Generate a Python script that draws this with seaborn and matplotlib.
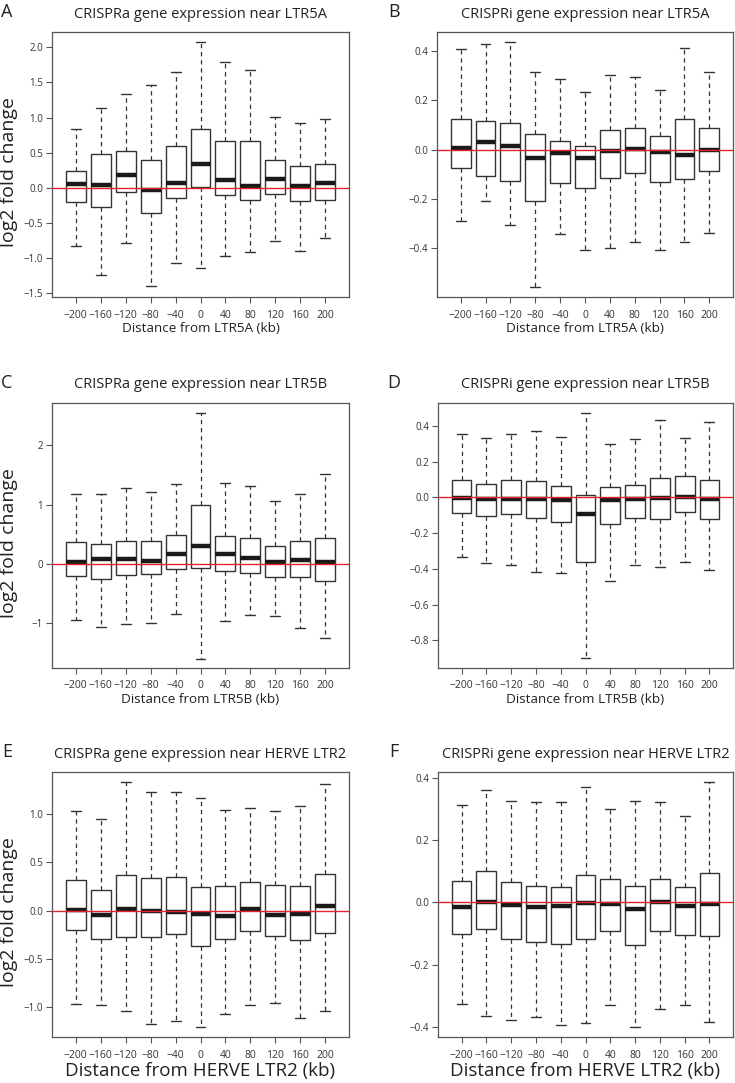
import numpy as np
import pandas as pd
import matplotlib
matplotlib.use('Agg')
import matplotlib.pyplot as plt
import seaborn as sns

# distance bins (kb)
distances = ['−200', '−160', '−120', '−80', '−40', '0', '40', '80', '120', '160', '200']

# five-number summaries: whisker low, Q1, median, Q3, whisker high
# A: CRISPRa near LTR5A
a_lo  = [-0.83, -1.24, -0.79, -1.41, -1.08, -1.14, -0.98, -0.92, -0.76, -0.91, -0.72]
a_q1  = [-0.20, -0.27, -0.06, -0.36, -0.15, 0.01, -0.10, -0.18, -0.09, -0.19, -0.18]
a_med = [0.05, 0.04, 0.18, -0.03, 0.07, 0.34, 0.11, 0.02, 0.12, 0.02, 0.06]
a_q3  = [0.24, 0.48, 0.52, 0.40, 0.59, 0.84, 0.67, 0.67, 0.39, 0.31, 0.33]
a_hi  = [0.84, 1.14, 1.33, 1.47, 1.65, 2.08, 1.79, 1.68, 1.01, 0.92, 0.98]

# B: CRISPRi near LTR5A
b_lo  = [-0.29, -0.21, -0.307, -0.558, -0.345, -0.41, -0.40, -0.377, -0.407, -0.376, -0.34]
b_q1  = [-0.077, -0.107, -0.13, -0.208, -0.138, -0.158, -0.115, -0.097, -0.134, -0.122, -0.089]
b_med = [0.007, 0.03, 0.014, -0.035, -0.016, -0.034, -0.008, 0.003, -0.012, -0.023, -0.001]
b_q3  = [0.126, 0.116, 0.107, 0.065, 0.035, 0.013, 0.078, 0.089, 0.053, 0.123, 0.088]
b_hi  = [0.41, 0.43, 0.437, 0.315, 0.286, 0.235, 0.303, 0.296, 0.242, 0.412, 0.316]

# C: CRISPRa near LTR5B
c_lo  = [-0.95, -1.07, -1.02, -1.00, -0.85, -1.61, -0.97, -0.88, -0.89, -1.10, -1.27]
c_q1  = [-0.21, -0.26, -0.20, -0.17, -0.09, -0.08, -0.13, -0.16, -0.22, -0.23, -0.29]
c_med = [0.02, 0.07, 0.08, 0.05, 0.17, 0.29, 0.17, 0.10, 0.02, 0.06, 0.03]
c_q3  = [0.37, 0.33, 0.39, 0.38, 0.49, 0.99, 0.47, 0.43, 0.29, 0.39, 0.43]
c_hi  = [1.17, 1.18, 1.28, 1.21, 1.34, 2.55, 1.36, 1.32, 1.06, 1.18, 1.51]

# D: CRISPRi near LTR5B
d_lo  = [-0.333, -0.368, -0.379, -0.418, -0.42, -0.898, -0.465, -0.377, -0.388, -0.362, -0.405]
d_q1  = [-0.086, -0.102, -0.093, -0.117, -0.139, -0.362, -0.15, -0.113, -0.119, -0.082, -0.121]
d_med = [-0.004, -0.011, -0.007, -0.011, -0.017, -0.095, -0.013, -0.007, -0.004, 0.002, -0.007]
d_q3  = [0.10, 0.076, 0.099, 0.089, 0.063, 0.013, 0.061, 0.071, 0.108, 0.117, 0.10]
d_hi  = [0.353, 0.335, 0.353, 0.374, 0.34, 0.472, 0.296, 0.325, 0.433, 0.335, 0.422]

# E: CRISPRa near HERVE LTR2
e_lo  = [-0.962, -0.979, -1.034, -1.176, -1.145, -1.203, -1.066, -0.979, -0.955, -1.114, -1.041]
e_q1  = [-0.197, -0.297, -0.272, -0.269, -0.245, -0.362, -0.297, -0.214, -0.259, -0.307, -0.234]
e_med = [0.01, -0.041, 0.017, 0.0, -0.014, -0.038, -0.059, 0.021, -0.045, -0.031, 0.048]
e_q3  = [0.32, 0.21, 0.366, 0.334, 0.352, 0.248, 0.252, 0.293, 0.266, 0.252, 0.383]
e_hi  = [1.03, 0.948, 1.334, 1.224, 1.224, 1.166, 1.045, 1.062, 1.034, 1.079, 1.314]

# F: CRISPRi near HERVE LTR2
f_lo  = [-0.325, -0.364, -0.378, -0.366, -0.391, -0.385, -0.328, -0.40, -0.34, -0.327, -0.383]
f_q1  = [-0.102, -0.085, -0.116, -0.126, -0.133, -0.118, -0.09, -0.136, -0.092, -0.103, -0.108]
f_med = [-0.016, 0.003, -0.009, -0.013, -0.012, -0.003, -0.006, -0.02, 0.0, -0.012, -0.004]
f_q3  = [0.07, 0.10, 0.066, 0.054, 0.05, 0.088, 0.074, 0.052, 0.075, 0.05, 0.095]
f_hi  = [0.313, 0.36, 0.326, 0.323, 0.322, 0.369, 0.301, 0.325, 0.321, 0.278, 0.385]

sns.set_style('ticks')
plt.rcParams['font.family'] = ['Open Sans', 'DejaVu Sans']

W, H = 735, 1083
fig = plt.figure(figsize=(W / 100, H / 100), dpi=100)

def to_df(lo, q1, med, q3, hi):
    rows = []
    for i, d in enumerate(distances):
        for v in (lo[i], q1[i], med[i], q3[i], hi[i]):
            rows.append((d, v))
    return pd.DataFrame(rows, columns=['dist', 'lfc'])

panels = [
    # letter, title, xlabel, data, ylim, yticks, tickfmt, box px (left, top, right, bottom), left col?, xlabel size
    ('A', 'CRISPRa gene expression near LTR5A', 'Distance from LTR5A (kb)',
     (a_lo, a_q1, a_med, a_q3, a_hi), (-1.56, 2.22), [-1.5, -1.0, -0.5, 0.0, 0.5, 1.0, 1.5, 2.0], '%.1f',
     (52, 32, 349, 297), True, 9.7),
    ('B', 'CRISPRi gene expression near LTR5A', 'Distance from LTR5A (kb)',
     (b_lo, b_q1, b_med, b_q3, b_hi), (-0.60, 0.478), [-0.4, -0.2, 0.0, 0.2, 0.4], '%.1f',
     (437, 32, 733, 297), False, 9.7),
    ('C', 'CRISPRa gene expression near LTR5B', 'Distance from LTR5B (kb)',
     (c_lo, c_q1, c_med, c_q3, c_hi), (-1.77, 2.72), [-1, 0, 1, 2], '%d',
     (52, 403, 349, 668), True, 9.7),
    ('D', 'CRISPRi gene expression near LTR5B', 'Distance from LTR5B (kb)',
     (d_lo, d_q1, d_med, d_q3, d_hi), (-0.954, 0.528), [-0.8, -0.6, -0.4, -0.2, 0.0, 0.2, 0.4], '%.1f',
     (438, 403, 733, 668), False, 9.7),
    ('E', 'CRISPRa gene expression near HERVE LTR2', 'Distance from HERVE LTR2 (kb)',
     (e_lo, e_q1, e_med, e_q3, e_hi), (-1.307, 1.434), [-1.0, -0.5, 0.0, 0.5, 1.0], '%.1f',
     (52, 772, 349, 1037), True, 13.5),
    ('F', 'CRISPRi gene expression near HERVE LTR2', 'Distance from HERVE LTR2 (kb)',
     (f_lo, f_q1, f_med, f_q3, f_hi), (-0.431, 0.418), [-0.4, -0.2, 0.0, 0.2, 0.4], '%.1f',
     (438, 772, 733, 1037), False, 13.5),
]

edge = '#333333'
for letter, title, xlab, stats, ylim, yticks, fmt, (l, t, r, b), leftcol, xlsize in panels:
    ax = fig.add_axes([l / W, 1 - b / H, (r - l) / W, (b - t) / H])
    df = to_df(*stats)
    sns.boxplot(data=df, x='dist', y='lfc', order=distances, ax=ax,
                whis=np.inf, width=0.8, color='white', linecolor=edge, linewidth=1.0,
                whiskerprops=dict(linestyle=(0, (3.5, 3.0)), linewidth=0.9, color=edge),
                capprops=dict(linewidth=1.0, color=edge),
                medianprops=dict(linewidth=3.2, color='#1a1a1a', solid_capstyle='butt'),
                boxprops=dict(facecolor='white', edgecolor=edge, linewidth=1.0))
    ax.axhline(0, color='#e3232c', linewidth=1.0, zorder=10)
    ax.set_xlim(-0.95, 10.95)
    ax.set_ylim(*ylim)
    ax.set_yticks(yticks)
    ax.set_yticklabels([(fmt % v).replace('-', '−') for v in yticks])
    for s in ax.spines.values():
        s.set_visible(True)
        s.set_color('#555555')
        s.set_linewidth(0.9)
    ax.tick_params(axis='both', length=4, width=0.8, color='#555555',
                   labelcolor='#333333')
    ax.tick_params(axis='x', labelsize=7.5, pad=5)
    ax.tick_params(axis='y', labelsize=7, pad=2.5)
    ax.set_xlabel(xlab, fontsize=xlsize, color='#222222', labelpad=1)
    if leftcol:
        ax.set_ylabel('log2 fold change', fontsize=14, color='#222222')
        ax.yaxis.set_label_coords(-(l - 18) / (r - l), 0.47)
    else:
        ax.set_ylabel('')
    cx = (l + r) / 2 / W
    fig.text(cx, 1 - (t - 18) / H, title, ha='center', va='center', fontsize=10.5, color='#222222')
    lx = 7 if leftcol else 394
    fig.text(lx / W, 1 - (t - 20) / H, letter, ha='center', va='center', fontsize=13, color='#222222')

fig.savefig('out.png', dpi=100)
